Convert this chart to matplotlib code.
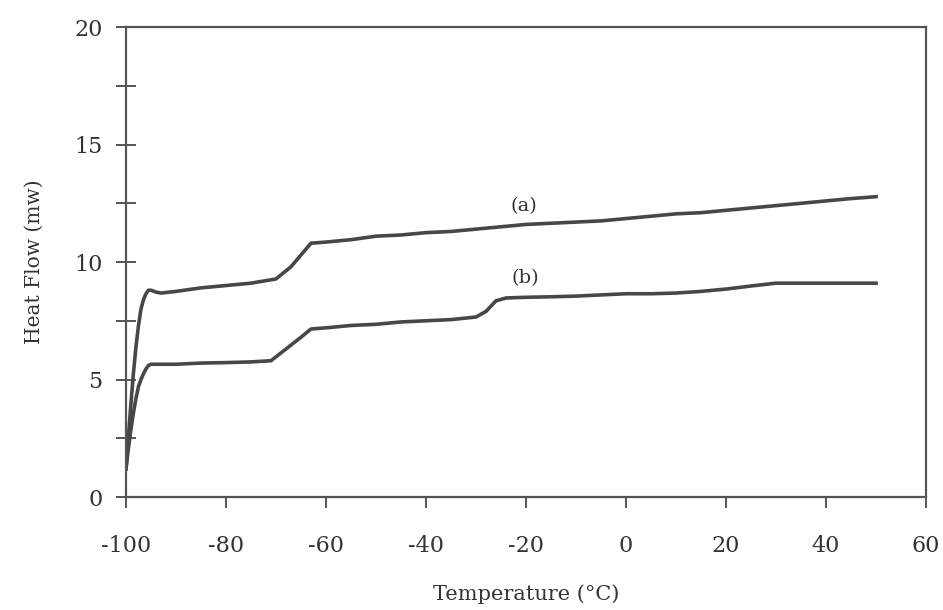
import matplotlib
matplotlib.use("Agg")
import matplotlib.pyplot as plt
from matplotlib.ticker import MultipleLocator

# curve (a)
temp_a = [-100, -99.5, -99, -98.5, -98, -97.5, -97, -96.5, -96, -95.5, -95, -94, -93,
          -90, -85, -80, -75, -70, -67, -65, -63, -60, -55, -50, -45, -40, -35,
          -30, -25, -20, -15, -10, -5, 0, 5, 10, 15, 20, 25, 30, 35, 40, 45, 50]
flow_a = [1.2, 2.6, 4.0, 5.3, 6.4, 7.3, 8.0, 8.4, 8.65, 8.8, 8.8, 8.72, 8.68,
          8.75, 8.9, 9.0, 9.1, 9.28, 9.8, 10.3, 10.8, 10.85, 10.95, 11.1, 11.15, 11.25, 11.3,
          11.4, 11.5, 11.6, 11.65, 11.7, 11.75, 11.85, 11.95, 12.05, 12.1, 12.2, 12.3, 12.4, 12.5, 12.6, 12.7, 12.78]

# curve (b)
temp_b = [-100, -99.5, -99, -98.5, -98, -97.5, -97, -96.5, -96, -95.5, -95, -94,
          -90, -85, -80, -75, -71, -68, -65, -63, -60, -55, -50, -45, -40, -35,
          -30, -28, -26, -24, -20, -15, -10, -5, 0, 5, 10, 15, 20, 25, 30, 35, 40, 45, 50]
flow_b = [1.2, 2.1, 2.9, 3.6, 4.2, 4.7, 5.0, 5.25, 5.45, 5.6, 5.65, 5.65,
          5.65, 5.7, 5.72, 5.75, 5.8, 6.3, 6.8, 7.15, 7.2, 7.3, 7.35, 7.45, 7.5, 7.55,
          7.66, 7.9, 8.35, 8.47, 8.5, 8.52, 8.55, 8.6, 8.65, 8.65, 8.68, 8.75, 8.85, 8.98, 9.1, 9.1, 9.1, 9.1, 9.1]

x_ticks = [-100, -80, -60, -40, -20, 0, 20, 40, 60]
y_ticks = [0, 5, 10, 15, 20]

plt.rcParams['font.family'] = ['DejaVu Serif']
plt.rcParams['axes.unicode_minus'] = False

fig = plt.figure(figsize=(9.43, 6.1), dpi=100)
ax = fig.add_axes([0.1336, 0.1852, 0.8484, 0.7705])

line_col = '#474747'
ax.plot(temp_a, flow_a, color=line_col, lw=2.6)
ax.plot(temp_b, flow_b, color=line_col, lw=2.6)

ax.text(-20.5, 12.4, '(a)', ha='center', va='center', fontsize=14, color='#333333')
ax.text(-20.2, 9.3, '(b)', ha='center', va='center', fontsize=14, color='#333333')

ax.set_xlim(-100, 60)
ax.set_ylim(0, 20)
ax.set_xticks(x_ticks)
ax.set_yticks(y_ticks)
ax.yaxis.set_minor_locator(MultipleLocator(2.5))

for s in ax.spines.values():
    s.set_color('#555555')
    s.set_linewidth(1.6)

ax.tick_params(axis='x', direction='out', length=8, width=1.4, color='#555555',
               pad=19, labelsize=16, labelcolor='#333333')
ax.tick_params(axis='y', which='both', direction='inout', length=14, width=1.4,
               color='#555555', pad=10, labelsize=16, labelcolor='#333333')

ax.set_xlabel('Temperature (°C)', fontsize=15, color='#333333', labelpad=20)
ax.set_ylabel('Heat Flow (mw)', fontsize=14.5, color='#333333', labelpad=22)

fig.savefig('out.png', dpi=100)
